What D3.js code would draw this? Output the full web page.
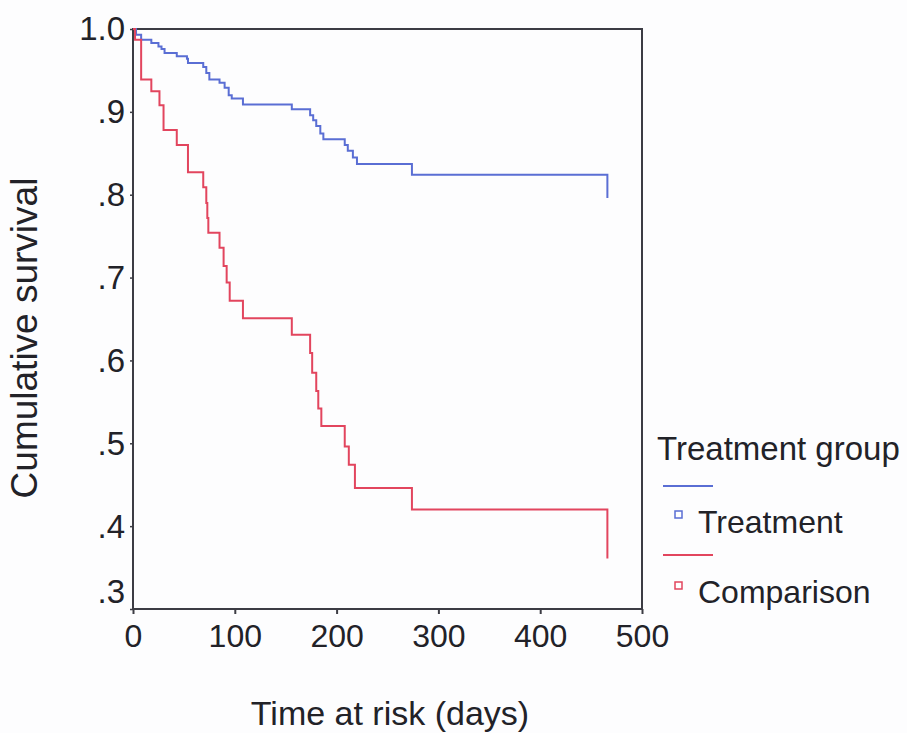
<!DOCTYPE html>
<html>
<head>
<meta charset="utf-8">
<script src="https://cdn.jsdelivr.net/npm/d3@7"></script>
<style>
  html, body { margin: 0; padding: 0; background: #fdfdfe; }
  svg { display: block; }
  text { font-family: "Liberation Sans", Arial, sans-serif; fill: #222228; }
</style>
</head>
<body>
<svg id="chart" width="907" height="733"></svg>
<script>
// ---- data ----
const treatmentTimes = [0, 3, 8, 18, 25, 28, 31, 43, 53, 54, 69, 72, 75, 85, 90, 94, 97, 108, 156, 174, 177, 180, 184, 187, 208, 211, 216, 220, 274, 466];
const treatmentSurv  = [1.0, 0.993, 0.987, 0.983, 0.979, 0.976, 0.971, 0.967, 0.964, 0.959, 0.954, 0.947, 0.939, 0.935, 0.929, 0.920, 0.916, 0.909, 0.903, 0.896, 0.890, 0.883, 0.874, 0.867, 0.860, 0.853, 0.845, 0.837, 0.824, 0.796];

const comparisonTimes = [0, 2, 8, 18, 26, 30, 43, 54, 69, 72, 73, 74, 85, 89, 92, 95, 108, 156, 174, 176, 180, 182, 185, 208, 212, 218, 274, 466];
const comparisonSurv  = [1.0, 0.987, 0.939, 0.925, 0.908, 0.878, 0.860, 0.827, 0.809, 0.790, 0.772, 0.754, 0.736, 0.714, 0.694, 0.672, 0.651, 0.631, 0.609, 0.585, 0.563, 0.542, 0.521, 0.496, 0.474, 0.446, 0.420, 0.361];

const xTicks = [0, 100, 200, 300, 400, 500];
const yTicks = [1.0, 0.9, 0.8, 0.7, 0.6, 0.5, 0.4, 0.3];
const yTickLabels = ["1.0", ".9", ".8", ".7", ".6", ".5", ".4", ".3"];
const seriesNames = ["Treatment", "Comparison"];
const seriesColors = ["#5a6ed4", "#e2455e"];
const legendTitle = "Treatment group";
const xTitle = "Time at risk (days)";
const yTitle = "Cumulative survival";

// ---- layout ----
const plotL = 133, plotR = 642, plotT = 29, plotB = 609;
const svg = d3.select("#chart");

const x = d3.scaleLinear().domain([0, 500]).range([plotL, plotR]);
const y = d3.scaleLinear().domain([0.3, 1.0]).range([plotB, plotT]);

const axisColor = "#3c3c44";

// frame
svg.append("rect")
  .attr("x", plotL).attr("y", plotT)
  .attr("width", plotR - plotL).attr("height", plotB - plotT)
  .attr("fill", "none").attr("stroke", axisColor).attr("stroke-width", 2);

// x axis
const xAxis = svg.append("g")
  .attr("transform", `translate(0,${plotB})`)
  .call(d3.axisBottom(x).tickValues(xTicks).tickSize(5).tickPadding(10).tickFormat(d3.format("d")));
xAxis.select(".domain").remove();
xAxis.selectAll("line").attr("stroke", axisColor).attr("stroke-width", 2);
xAxis.selectAll("text").attr("font-size", 32).attr("fill", "#222228")
  .attr("font-family", "Liberation Sans, Arial, sans-serif");

// y axis
const yAxis = svg.append("g")
  .attr("transform", `translate(${plotL},0)`)
  .call(d3.axisLeft(y).tickValues(yTicks).tickSize(3).tickPadding(5)
    .tickFormat((d, i) => yTickLabels[i]));
yAxis.select(".domain").remove();
yAxis.selectAll("line").attr("stroke", axisColor).attr("stroke-width", 1.5);
yAxis.selectAll("text").attr("font-size", 33).attr("fill", "#222228")
  .attr("font-family", "Liberation Sans, Arial, sans-serif")
  .attr("dy", (d) => d === 0.3 ? "-0.2em" : "0.33em");

// axis titles
svg.append("text")
  .attr("x", 390).attr("y", 725)
  .attr("text-anchor", "middle").attr("font-size", 34)
  .text(xTitle);

svg.append("text")
  .attr("transform", `translate(37,338) rotate(-90)`)
  .attr("text-anchor", "middle").attr("font-size", 37)
  .text(yTitle);

// survival step curves
const line = d3.line()
  .x(d => x(d[0]))
  .y(d => y(d[1]))
  .curve(d3.curveStepAfter);

const series = [
  d3.zip(treatmentTimes, treatmentSurv),
  d3.zip(comparisonTimes, comparisonSurv)
];

series.forEach((pts, i) => {
  svg.append("path")
    .datum(pts)
    .attr("d", line)
    .attr("fill", "none")
    .attr("stroke", seriesColors[i])
    .attr("stroke-width", 2);
});

// legend
const lg = svg.append("g");
lg.append("text").attr("x", 657).attr("y", 460).attr("font-size", 33).text(legendTitle);

const rows = [{ lineY: 486, boxY: 515, textY: 533 }, { lineY: 555, boxY: 586, textY: 603 }];
rows.forEach((r, i) => {
  lg.append("line")
    .attr("x1", 663).attr("x2", 713)
    .attr("y1", r.lineY).attr("y2", r.lineY)
    .attr("stroke", seriesColors[i]).attr("stroke-width", 2);
  lg.append("rect")
    .attr("x", 675).attr("y", r.boxY - 4)
    .attr("width", 7).attr("height", 7)
    .attr("fill", "#fff").attr("stroke", seriesColors[i]).attr("stroke-width", 1.5);
  lg.append("text").attr("x", 698).attr("y", r.textY).attr("font-size", 32).text(seriesNames[i]);
});
</script>
</body>
</html>
